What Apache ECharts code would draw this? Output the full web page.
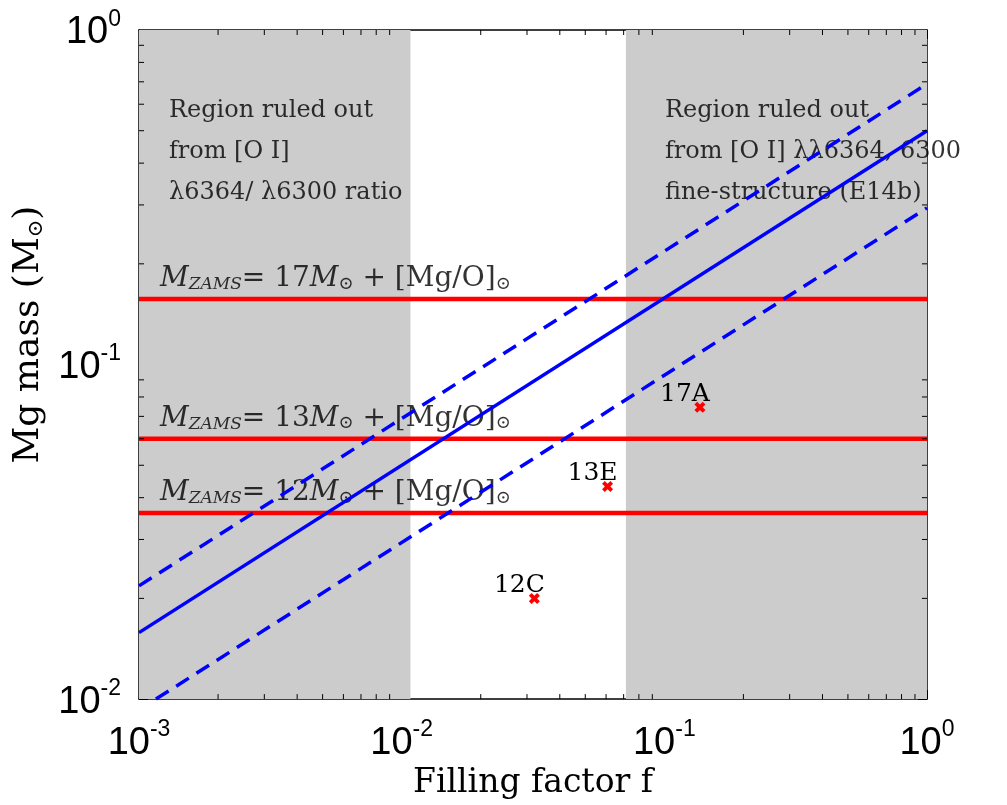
<!DOCTYPE html>
<html><head><meta charset="utf-8">
<script src="https://cdn.jsdelivr.net/npm/echarts@6/dist/echarts.min.js"></script>
<style>html,body{margin:0;padding:0;background:#fff}#c{width:1007px;height:805px}</style>
</head><body><div id="c"></div>
<script>
// ---- data ----
const xRange = [0.001, 1];
const yRange = [0.01, 1];
const leftRegion = [0.001, 0.0108];
const rightRegion = [0.0714, 1];
const fitCentral = [[0.001, 0.0158], [1, 0.5]];
const fitUpper = [[0.001, 0.0218], [1, 0.69]];
const fitLower = [[0.00116, 0.01], [1, 0.294]];
const modelMass = ['17', '13', '12'];
const modelMg = [0.157, 0.060, 0.036];
const obsNames = ['12C', '13E', '17A'];
const obsF = [0.0320, 0.0608, 0.1366];
const obsMg = [0.0200, 0.0432, 0.0746];
const leftText = ['Region ruled out', 'from [O I]', 'λ6364/ λ6300 ratio'];
const rightText = ['Region ruled out', 'from [O I] λλ6364, 6300', 'fine-structure (E14b)'];
const xMinor = [0.002,0.003,0.004,0.005,0.006,0.007,0.008,0.009,0.02,0.03,0.04,0.05,0.06,0.07,0.08,0.09,0.2,0.3,0.4,0.5,0.6,0.7,0.8,0.9];
const yMinor = [0.02,0.03,0.04,0.05,0.06,0.07,0.08,0.09,0.2,0.3,0.4,0.5,0.6,0.7,0.8,0.9];

const SERIF = 'DejaVu Serif';
const SANS = 'Liberation Sans';

function powLabel(v) {
  const e = Math.round(Math.log10(v));
  return '{b|10}{s|' + e + '}';
}
const tickRich = {
  b: { fontFamily: SANS, fontSize: 38, color: '#000', lineHeight: 44, verticalAlign: 'bottom' },
  s: { fontFamily: SANS, fontSize: 23, color: '#000', lineHeight: 22, verticalAlign: 'top' }
};

const chart = echarts.init(document.getElementById('c'), null, { renderer: 'canvas' });

function axisCommon(extra) {
  return Object.assign({
    type: 'log', logBase: 10,
    axisLine: { show: true, onZero: false, lineStyle: { color: '#000', width: 1.5 } },
    axisTick: { show: true, inside: true, length: 9, lineStyle: { color: '#000', width: 1 } },
    splitLine: { show: false },
    minorTick: { show: false },
    minorSplitLine: { show: false }
  }, extra);
}

const lineRich = {
  i: { fontFamily: SERIF, fontStyle: 'italic', fontSize: 28, color: '#000' },
  sub: { fontFamily: SERIF, fontStyle: 'italic', fontSize: 17, color: '#000', lineHeight: 14, verticalAlign: 'bottom' },
  r: { fontFamily: SERIF, fontSize: 28, color: '#000' },
  o: { fontFamily: SERIF, fontSize: 18, color: '#000', lineHeight: 14, verticalAlign: 'bottom' }
};

const redSeries = modelMg.map(v => ({
  type: 'line', data: [[xRange[0], v], [xRange[1], v]], showSymbol: false, symbol: 'none', z: 4, silent: true,
  lineStyle: { color: '#ff0000', width: 4.5, type: 'solid' }
}));

const option = {
  animation: false,
  backgroundColor: '#fff',
  grid: { left: 139, right: 80, top: 30, bottom: 104, containLabel: false },
  xAxis: [
    axisCommon({
      min: xRange[0], max: xRange[1], position: 'bottom',
      axisLabel: { formatter: powLabel, rich: tickRich, margin: 19 },
      name: 'Filling factor f', nameLocation: 'middle', nameGap: 61,
      nameTextStyle: { fontFamily: SERIF, fontSize: 33, color: '#000' }
    }),
    axisCommon({ min: xRange[0], max: xRange[1], position: 'top', axisLabel: { show: false } })
  ],
  yAxis: [
    axisCommon({
      min: yRange[0], max: yRange[1], position: 'left',
      axisLabel: { formatter: powLabel, rich: tickRich, margin: 18 },
      name: '{a|Mg mass (M}{o|⊙}{a|)}', nameLocation: 'middle', nameGap: 92,
      nameTextStyle: { padding: [0, 0, 0, 60], rich: {
        a: { fontFamily: SERIF, fontSize: 36, color: '#000' },
        o: { fontFamily: SERIF, fontSize: 21, color: '#000', lineHeight: 14, verticalAlign: 'bottom' }
      } }
    }),
    axisCommon({ min: yRange[0], max: yRange[1], position: 'right', axisLabel: { show: false } })
  ],
  series: [
    {
      type: 'line', data: [], silent: true, z: 1,
      markArea: {
        silent: true,
        itemStyle: { color: '#cccccc' },
        data: [
          [{ xAxis: leftRegion[0], yAxis: yRange[0] }, { xAxis: leftRegion[1], yAxis: yRange[1] }],
          [{ xAxis: rightRegion[0], yAxis: yRange[0] }, { xAxis: rightRegion[1], yAxis: yRange[1] }]
        ]
      }
    },
    {
      type: 'scatter', symbolSize: 0, silent: true, z: 3,
      data: [[0.0013, 0.66, leftText.join('\n')], [0.1005, 0.66, rightText.join('\n')]],
      label: {
        show: true, position: [0, 0], align: 'left', verticalAlign: 'top',
        formatter: p => p.data[2],
        fontFamily: SERIF, fontSize: 24, lineHeight: 41, color: '#000'
      }
    },
    ...redSeries,
    {
      type: 'scatter', symbolSize: 0, silent: true, z: 4,
      data: modelMg.map((v, i) => [xRange[0], v, modelMass[i]]),
      label: {
        show: true, position: [21, -6], align: 'left', verticalAlign: 'bottom',
        formatter: p => '{i|M}{sub|ZAMS}{r|= ' + p.data[2] + '}{i|M}{o|⊙}{r| + [Mg/O]}{o|⊙}',
        rich: lineRich
      }
    },
    {
      type: 'line', data: fitCentral, showSymbol: false, symbol: 'none', z: 5,
      lineStyle: { color: '#0000ff', width: 3.5, type: 'solid' }
    },
    {
      type: 'line', data: fitUpper, showSymbol: false, symbol: 'none', z: 5,
      lineStyle: { color: '#0000ff', width: 3.5, type: [15, 9] }
    },
    {
      type: 'line', data: fitLower, showSymbol: false, symbol: 'none', z: 5,
      lineStyle: { color: '#0000ff', width: 3.5, type: [15, 9] }
    },
    {
      type: 'scatter', z: 6,
      symbol: 'path://M2.5,0 L5,2.5 L7.5,0 L10,2.5 L7.5,5 L10,7.5 L7.5,10 L5,7.5 L2.5,10 L0,7.5 L2.5,5 L0,2.5 Z',
      symbolSize: 11,
      itemStyle: { color: '#ff0000', opacity: 1 },
      data: obsF.map((f, i) => [f, obsMg[i], obsNames[i]]),
      label: {
        show: true, position: 'top', distance: 0, offset: [-15, 5],
        formatter: p => p.data[2],
        fontFamily: SERIF, fontSize: 25, color: '#000'
      }
    },
    {
      type: 'custom', z: 7, silent: true,
      data: xMinor.map(v => [v, yRange[0]]),
      renderItem: function (params, api) {
        const cs = params.coordSys;
        const p = api.coord([api.value(0), api.value(1)]);
        return { type: 'group', children: [
          { type: 'line', shape: { x1: p[0], y1: cs.y + cs.height, x2: p[0], y2: cs.y + cs.height - 5 }, style: { stroke: '#000', lineWidth: 1 } },
          { type: 'line', shape: { x1: p[0], y1: cs.y, x2: p[0], y2: cs.y + 5 }, style: { stroke: '#000', lineWidth: 1 } }
        ] };
      }
    },
    {
      type: 'custom', z: 7, silent: true,
      data: yMinor.map(v => [xRange[0], v]),
      renderItem: function (params, api) {
        const cs = params.coordSys;
        const p = api.coord([api.value(0), api.value(1)]);
        return { type: 'group', children: [
          { type: 'line', shape: { x1: cs.x, y1: p[1], x2: cs.x + 5, y2: p[1] }, style: { stroke: '#000', lineWidth: 1 } },
          { type: 'line', shape: { x1: cs.x + cs.width, y1: p[1], x2: cs.x + cs.width - 5, y2: p[1] }, style: { stroke: '#000', lineWidth: 1 } }
        ] };
      }
    }
  ]
};
chart.setOption(option);
</script>
</body></html>
